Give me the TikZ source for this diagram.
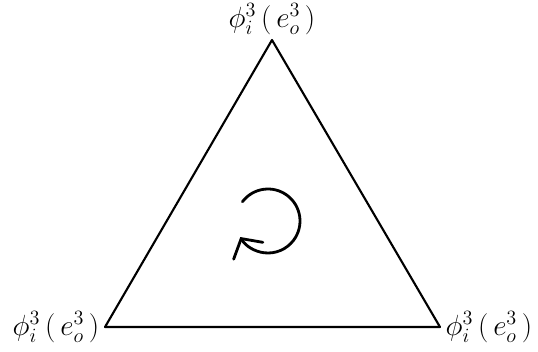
\documentclass[tikz,border=0pt]{standalone}
\usepackage{amsmath}
\usetikzlibrary{arrows.meta, positioning, calc}

\begin{document}
\begin{tikzpicture}[
    x=0.025cm, y=-0.025cm,
    edge/.style={line width=1.5pt, line join=round},
    lbl/.style={font=\fontsize{21}{25}\selectfont, inner sep=1pt},
    rot/.style={line width=2pt, line cap=round, -{Straight Barb[length=10pt, width=24pt, line cap=round]}}
]
\useasboundingbox (0,0) rectangle (538,351);
\def\face{$\phi^3_i\,(\,e^3_o\,)$}
\coordinate (vt) at (272,40);
\coordinate (vl) at (105,327);
\coordinate (vr) at (440,327);
\coordinate (c)  at (268,221);
\node[lbl] (lt) at (272,19)       {\face};
\node[lbl, anchor=east] (ll) at (101,327) {\face};
\node[lbl, anchor=west] (lr) at (444,327) {\face};
\draw[edge] (vt) -- (vl) -- (vr) -- cycle;
% orientation
\draw[rot] ([shift={(-143:32)}]c) arc[start angle=-143, end angle=150, radius=32];
\end{tikzpicture}
\end{document}
